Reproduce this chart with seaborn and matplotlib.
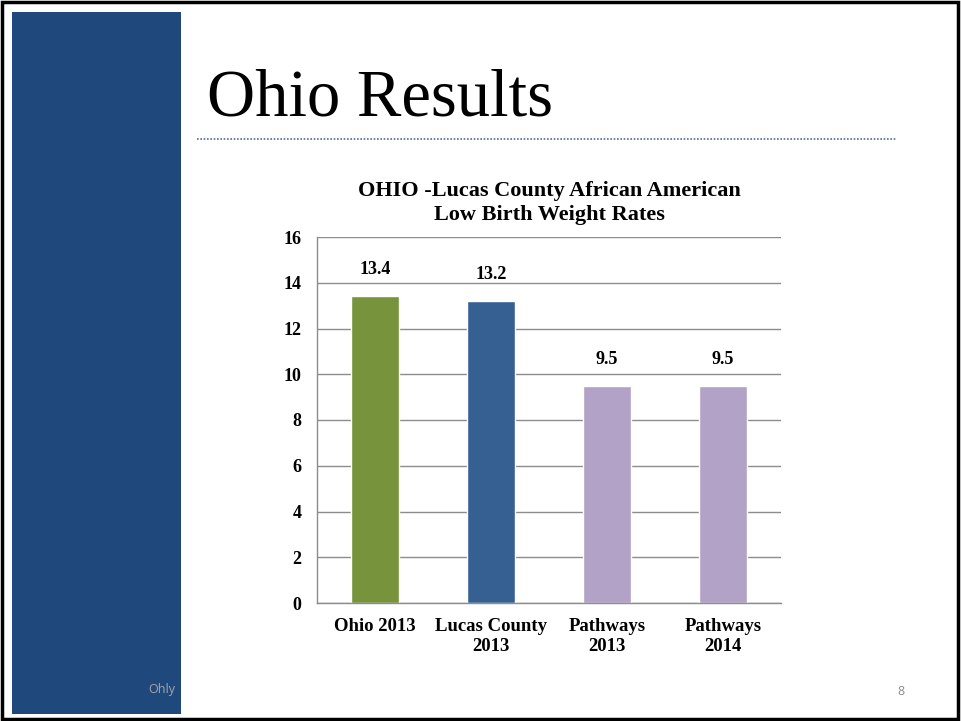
import matplotlib
matplotlib.use("Agg")
import matplotlib.pyplot as plt
import matplotlib.patches as mpatches
from matplotlib.lines import Line2D
import pandas as pd
import seaborn as sns

# chart data
categories = ["Ohio 2013", "Lucas County\n2013", "Pathways\n2013", "Pathways\n2014"]
rates = [13.4, 13.2, 9.5, 9.5]
bar_colors = ["#77933C", "#376092", "#B3A2C7", "#B3A2C7"]
y_ticks = [0, 2, 4, 6, 8, 10, 12, 14, 16]

df = pd.DataFrame({"category": categories, "rate": rates})

sns.set_style("white")
plt.rcParams["font.family"] = ["Liberation Serif", "DejaVu Serif"]
plt.rcParams["text.color"] = "black"
plt.rcParams["xtick.color"] = "black"
plt.rcParams["ytick.color"] = "black"

fig = plt.figure(figsize=(9.61, 7.21), dpi=100)

# slide decoration: frame, blue side panel, title, dotted rule
fig.patches.append(mpatches.Rectangle((0.002, 0.003), 0.995, 0.994, transform=fig.transFigure,
                                      fill=False, edgecolor="black", linewidth=2.5))
fig.patches.append(mpatches.Rectangle((12 / 961, 1 - 714 / 721), 169 / 961, 702 / 721,
                                      transform=fig.transFigure, facecolor="#1F497D",
                                      edgecolor="none"))
fig.text(207 / 961, 1 - 116 / 721, "Ohio Results", fontsize=48, color="black",
         ha="left", va="baseline", fontfamily=["Liberation Serif"])
fig.lines.append(Line2D([197 / 961, 897 / 961], [1 - 139 / 721, 1 - 139 / 721],
                        transform=fig.transFigure, color="#4F6FA0", linewidth=1.2,
                        linestyle=(0, (1, 1))))
fig.text(148 / 961, 1 - 693 / 721, "Ohly", fontsize=9, color="#A6A6A6",
         fontfamily=["Open Sans"])
fig.text(904 / 961, 1 - 695 / 721, "8", fontsize=9, color="#8C8C8C", ha="right",
         fontfamily=["Open Sans"])

ax = fig.add_axes([317 / 961, 1 - 603 / 721, 464 / 961, 366 / 721])
sns.barplot(data=df, x="category", y="rate", hue="category", palette=bar_colors,
            width=0.41, saturation=1, legend=False, ax=ax)

ax.set_ylim(0, 16)
ax.set_xlim(-0.5, 3.5)
ax.set_yticks(y_ticks)
ax.set_yticklabels([str(t) for t in y_ticks], fontsize=13, fontweight="bold")
ax.set_xticks(range(len(categories)))
ax.set_xticklabels(categories, fontsize=13.5, fontweight="bold", linespacing=1.2)
ax.set_xticks([-0.5, 0.5, 1.5, 2.5, 3.5], minor=True)
ax.tick_params(axis="x", which="major", length=0, pad=11)
ax.tick_params(axis="x", which="minor", length=5, color="#8C8C8C", width=1)
ax.tick_params(axis="y", length=5, color="#8C8C8C", labelcolor="black", width=1, pad=6)
ax.set_xlabel("")
ax.set_ylabel("")
ax.yaxis.grid(True, color="#8C8C8C", linewidth=1)
ax.set_axisbelow(True)
for side in ["top", "right"]:
    ax.spines[side].set_visible(False)
for side in ["left", "bottom"]:
    ax.spines[side].set_color("#8C8C8C")
    ax.spines[side].set_linewidth(1)

for i, v in enumerate(rates):
    ax.annotate(f"{v}", (i, v), xytext=(0, 13), textcoords="offset points",
                ha="center", va="bottom", fontsize=13, fontweight="bold", color="black")

ax.set_title("OHIO -Lucas County African American\nLow Birth Weight Rates",
             fontsize=16, fontweight="bold", pad=12, linespacing=1.3, color="black")

fig.savefig("out.png", dpi=100)
